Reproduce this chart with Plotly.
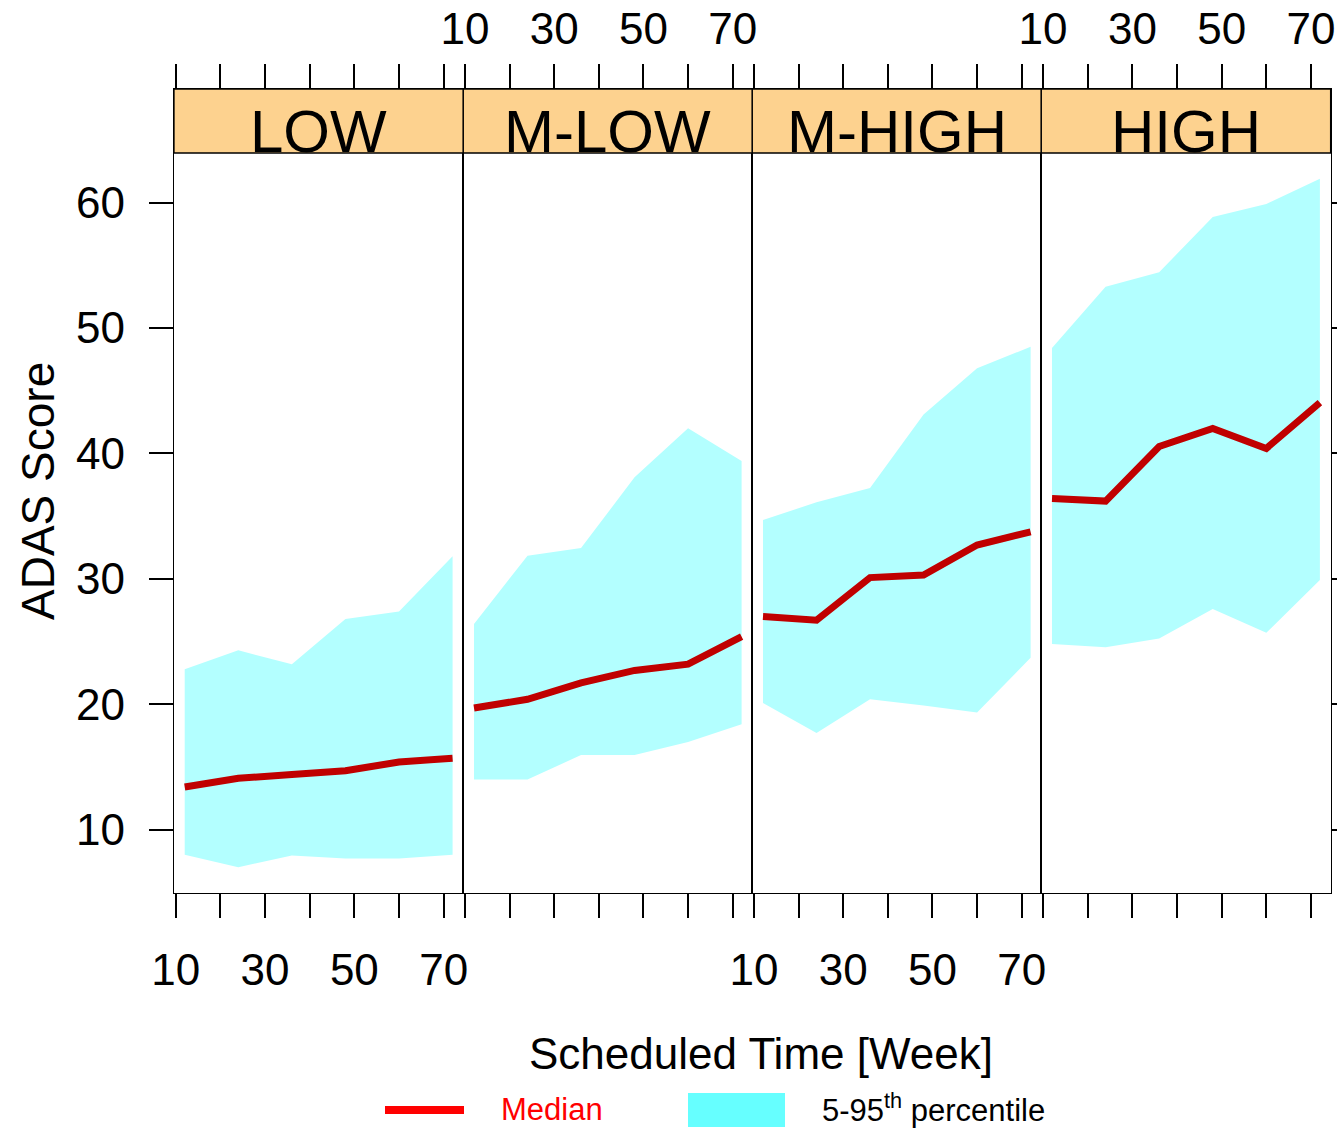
import plotly.graph_objects as go

# ---- data -------------------------------------------------------------
weeks = [12, 24, 36, 48, 60, 72]
groups = ["LOW", "M-LOW", "M-HIGH", "HIGH"]

median_low = [13.4, 14.1, 14.4, 14.7, 15.4, 15.7]
median_mlow = [19.7, 20.4, 21.7, 22.7, 23.2, 25.4]
median_mhigh = [27.0, 26.7, 30.1, 30.3, 32.7, 33.75]
median_high = [36.4, 36.2, 40.55, 42.0, 40.4, 44.05]

p05_low = [8.0, 7.0, 7.95, 7.7, 7.7, 8.0]
p05_mlow = [14.0, 14.0, 15.95, 15.95, 17.0, 18.4]
p05_mhigh = [20.1, 17.7, 20.4, 19.9, 19.35, 23.7]
p05_high = [24.8, 24.55, 25.25, 27.6, 25.7, 29.9]

p95_low = [22.8, 24.3, 23.2, 26.8, 27.4, 31.8]
p95_mlow = [26.4, 31.85, 32.45, 38.1, 42.0, 39.4]
p95_mhigh = [34.7, 36.1, 37.25, 43.1, 46.8, 48.5]
p95_high = [48.4, 53.3, 54.45, 58.85, 59.9, 61.9]

x_labelled_ticks = [10, 30, 50, 70]
x_minor_ticks = [20, 40, 60]
y_tickvals = [10, 20, 30, 40, 50, 60]

medians = [median_low, median_mlow, median_mhigh, median_high]
lowers = [p05_low, p05_mlow, p05_mhigh, p05_high]
uppers = [p95_low, p95_mlow, p95_mhigh, p95_high]

# ---- styling ----------------------------------------------------------
W, H = 1337, 1128
FONT = "Arial, Liberation Sans, sans-serif"
BAND = "#B3FFFF"
MED = "#C00000"
STRIP = "#FDD28F"
LW = 1.3

edges = [174, 463.3, 752.3, 1041.3, 1330.6]   # panel borders (px)
panel_bottom, strip_top, strip_bottom = 893, 89, 153

x_range = [9.6, 74.4]
y_range = [4.95, 69.06]   # upper part of each column is covered by the strip


def px_x(x):
    return x / W


def px_y(y):
    return 1 - y / H


fig = go.Figure()

for i, g in enumerate(groups):
    sfx = "" if i == 0 else str(i + 1)
    fig.add_trace(go.Scatter(
        x=weeks + weeks[::-1],
        y=uppers[i] + lowers[i][::-1],
        fill="toself", fillcolor=BAND, mode="lines",
        line=dict(width=0, color=BAND),
        xaxis="x" + sfx, yaxis="y" + sfx,
        hoverinfo="skip", showlegend=False,
    ))
    fig.add_trace(go.Scatter(
        x=weeks, y=medians[i], mode="lines",
        line=dict(color=MED, width=7),
        xaxis="x" + sfx, yaxis="y" + sfx,
        showlegend=False, name=g,
    ))

layout = {}
for i in range(4):
    sfx = "" if i == 0 else str(i + 1)
    top = i % 2 == 1
    xa = dict(
        domain=[px_x(edges[i]), px_x(edges[i + 1])],
        range=x_range, anchor="y" + sfx, automargin=False,
        tickmode="array", tickvals=x_labelled_ticks,
        ticktext=[str(v) for v in x_labelled_ticks],
        ticks="outside", ticklen=24, tickwidth=1.5, tickcolor="black",
        minor=dict(tickmode="array", tickvals=x_minor_ticks, ticks="outside",
                   ticklen=24, tickwidth=1.5, tickcolor="black", showgrid=False),
        showline=True, linecolor="black", linewidth=LW, mirror="ticks",
        showgrid=False, zeroline=False,
        side="top" if top else "bottom",
        tickfont=dict(family=FONT, size=44, color="black"),
        ticklabelstandoff=2 if top else 14,
    )
    ya = dict(
        domain=[px_y(panel_bottom), px_y(strip_top)],
        range=y_range, anchor="x" + sfx, automargin=False,
        showline=True, linecolor="black", linewidth=LW, mirror=True,
        showgrid=False, zeroline=False,
        tickmode="array", tickvals=y_tickvals,
        tickfont=dict(family=FONT, size=44, color="black"),
    )
    if i == 0:
        ya.update(ticks="outside", ticklen=24, tickwidth=1.5, tickcolor="black",
                  showticklabels=True, ticklabelstandoff=15)
    elif i == 3:
        ya.update(side="right", ticks="outside", ticklen=24, tickwidth=1.5,
                  tickcolor="black", showticklabels=False)
    else:
        ya.update(ticks="", showticklabels=False)
    layout["xaxis" + sfx] = xa
    layout["yaxis" + sfx] = ya

shapes = []
annotations = []
for i, g in enumerate(groups):
    shapes.append(dict(
        type="rect", xref="paper", yref="paper",
        x0=px_x(edges[i]), x1=px_x(edges[i + 1]),
        y0=px_y(strip_bottom), y1=px_y(strip_top),
        fillcolor=STRIP, line=dict(color="black", width=LW), layer="above",
    ))
    annotations.append(dict(
        text=g, xref="paper", yref="paper",
        x=px_x((edges[i] + edges[i + 1]) / 2), y=px_y(131),
        xanchor="center", yanchor="middle", showarrow=False,
        font=dict(family=FONT, size=60, color="black"),
    ))

# axis titles
annotations.append(dict(
    text="Scheduled Time [Week]", xref="paper", yref="paper",
    x=px_x(761), y=px_y(1053), xanchor="center", yanchor="middle",
    showarrow=False, font=dict(family=FONT, size=44, color="black"),
))
annotations.append(dict(
    text="ADAS Score", xref="paper", yref="paper",
    x=px_x(38), y=px_y(491), xanchor="center", yanchor="middle",
    textangle=-90, showarrow=False,
    font=dict(family=FONT, size=46, color="black"),
))

# legend key
shapes.append(dict(
    type="line", xref="paper", yref="paper",
    x0=px_x(385), x1=px_x(464), y0=px_y(1110), y1=px_y(1110),
    line=dict(color="#FF0000", width=8),
))
shapes.append(dict(
    type="rect", xref="paper", yref="paper",
    x0=px_x(688), x1=px_x(785), y0=px_y(1127), y1=px_y(1093),
    fillcolor="#66FFFF", line=dict(width=0),
))
annotations.append(dict(
    text="Median", xref="paper", yref="paper",
    x=px_x(500), y=px_y(1128), xanchor="left", yanchor="bottom",
    borderpad=0, showarrow=False,
    font=dict(family=FONT, size=31, color="#FF0000"),
))
annotations.append(dict(
    text="5-95<sup>th</sup> percentile", xref="paper", yref="paper",
    x=px_x(820), y=px_y(1108), xanchor="left", yanchor="middle",
    showarrow=False, font=dict(family=FONT, size=31, color="black"),
))

fig.update_layout(
    width=W, height=H,
    margin=dict(l=0, r=0, t=0, b=0, autoexpand=False),
    paper_bgcolor="white", plot_bgcolor="white",
    font=dict(family=FONT, color="black"),
    shapes=shapes, annotations=annotations,
    showlegend=False,
    **layout,
)

fig.write_html("out.html")
